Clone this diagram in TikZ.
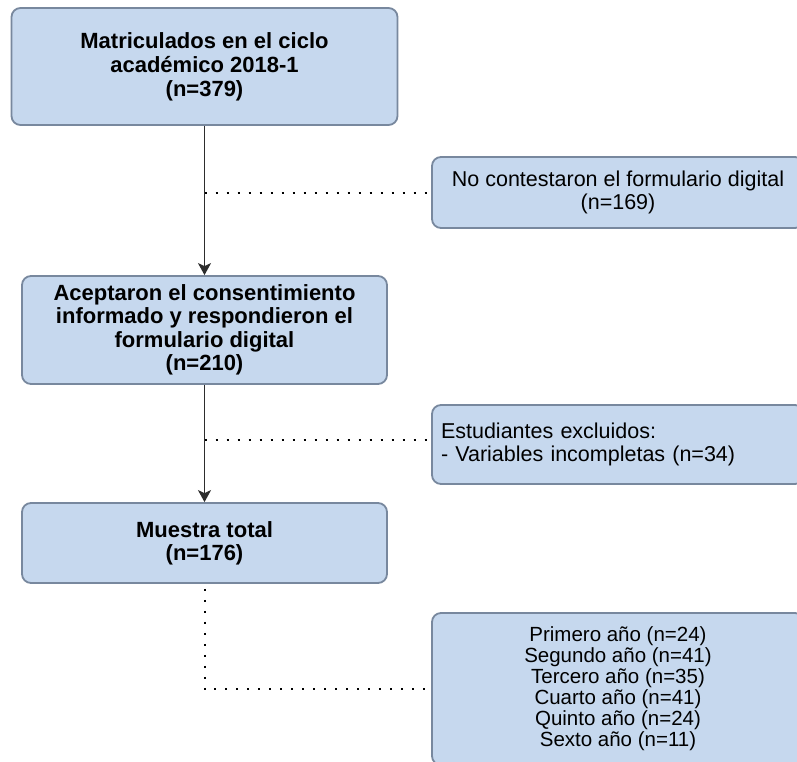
\documentclass[tikz,border=0pt]{standalone}
\usepackage{fontspec}
\setmainfont{Liberation Sans}
\usepackage{tikz}
\usetikzlibrary{arrows.meta, calc}

\definecolor{cajafondo}{RGB}{198,216,238}
\definecolor{cajaborde}{RGB}{120,136,158}
\definecolor{linea}{RGB}{45,45,45}

\tikzset{
    caja/.style={draw=cajaborde, fill=cajafondo, line width=1.8pt, rounded corners=9pt,
        inner sep=0pt, align=center},
    flecha/.style={draw=linea, line width=1.8pt, -{Stealth[length=12pt, width=13pt, inset=3pt]}},
    punteado/.style={draw=black, line width=2pt, dash pattern=on 2pt off 9pt}
}

\begin{document}
\begin{tikzpicture}[x=1pt, y=-1pt]

    % Fix the frame to the size of the original picture
    \useasboundingbox (0,0) rectangle (797,761);

    % Main boxes on the left
    \node[caja, minimum width=386pt, minimum height=117pt, font=\fontsize{22}{24}\selectfont\bfseries] (matric) at (204.5,66.5)
        {Matriculados en el ciclo\\ académico 2018-1\\ (n=379)};
    \node[caja, minimum width=365pt, minimum height=108pt, font=\fontsize{22}{23.5}\selectfont\bfseries] (acept) at (204.5,330)
        {Aceptaron el consentimiento\\ informado y respondieron el\\ formulario digital\\ (n=210)};
    \node[caja, minimum width=365pt, minimum height=80pt, font=\fontsize{22}{23}\selectfont\bfseries] (muestra) at (204.5,543)
        {Muestra total\\ (n=176)};

    % Boxes on the right (cut by the frame)
    \node[caja, minimum width=372pt, minimum height=71pt, font=\fontsize{21.5}{23}\selectfont] (nocont) at (618,192.5)
        {No contestaron el formulario digital\\ (n=169)};
    \node[caja, minimum width=372pt, minimum height=79pt, inner xsep=9pt, text width=354pt, align=left,
        font=\fontsize{21.5}{23}\selectfont] (excl) at (618,444.5)
        {Estudiantes excluidos:\\ - Variables incompletas (n=34)};
    \node[caja, minimum width=372pt, minimum height=152pt, font=\fontsize{20.5}{21}\selectfont] (anios) at (618,689)
        {Primero año (n=24)\\ Segundo año (n=41)\\ Tercero año (n=35)\\
         Cuarto año (n=41)\\ Quinto año (n=24)\\ Sexto año (n=11)};

    % Arrows of the main flow
    \draw[flecha] (matric.south) -- (acept.north);
    \draw[flecha] (acept.south) -- (muestra.north);

    % Dotted branches
    \coordinate (r1) at (204.5,192.5);
    \coordinate (r2) at (204.5,440);
    \draw[punteado] (r1) -- (nocont.west);
    \draw[punteado] (r2) -- (r2 -| excl.west);
    \draw[punteado] ($(muestra.south)+(0,5)$) |- (anios.west);

\end{tikzpicture}
\end{document}
